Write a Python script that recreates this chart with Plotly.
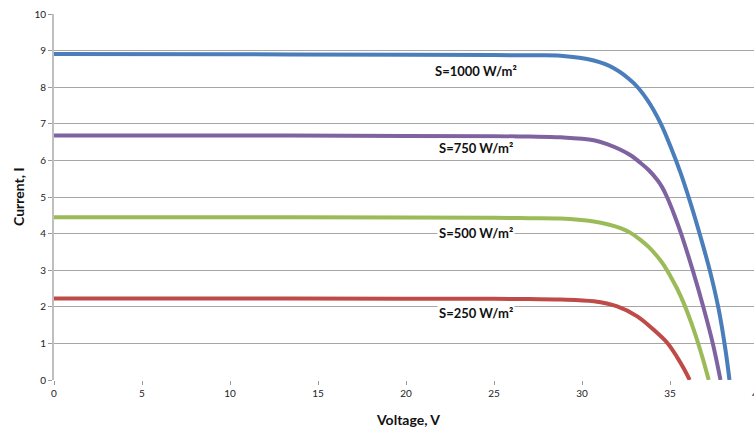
import plotly.graph_objects as go

# I-V characteristics of a PV module at four irradiance levels
v_1000 = [0, 10, 20, 25, 27, 28.78, 30.67, 31.81, 32.94, 33.70, 34.46, 35.03, 35.6, 36.16, 36.73, 37.3, 37.77, 38.15, 38.38]
i_1000 = [8.91, 8.90, 8.89, 8.88, 8.87, 8.86, 8.73, 8.52, 8.11, 7.66, 7.02, 6.38, 5.66, 4.84, 3.92, 2.92, 1.92, 0.83, 0]

v_750 = [0, 10, 20, 25, 27, 28.78, 30.67, 31.5, 32.19, 32.76, 33.33, 33.8, 34.27, 34.55, 34.83, 35.23, 35.63, 36.29, 36.89, 37.43, 37.87]
i_750 = [6.68, 6.68, 6.67, 6.66, 6.65, 6.63, 6.55, 6.43, 6.29, 6.14, 5.93, 5.73, 5.47, 5.27, 5.0, 4.53, 4.0, 3.0, 2.0, 1.0, 0]

v_500 = [0, 10, 20, 25, 27, 28.78, 30.67, 31.5, 32.19, 32.76, 33.32, 33.8, 34.27, 34.65, 35.03, 35.4, 35.78, 36.35, 36.83, 37.2]
i_500 = [4.45, 4.45, 4.44, 4.43, 4.42, 4.41, 4.33, 4.25, 4.15, 4.02, 3.83, 3.63, 3.38, 3.14, 2.83, 2.50, 2.10, 1.37, 0.64, 0]

v_250 = [0, 10, 20, 25, 27, 28.78, 30.67, 32.0, 33.14, 34.08, 34.84, 35.41, 35.8, 36.12]
i_250 = [2.23, 2.23, 2.22, 2.22, 2.21, 2.20, 2.15, 2.01, 1.74, 1.37, 1.02, 0.62, 0.30, 0]

series_names = ["S=1000 W/m²", "S=750 W/m²", "S=500 W/m²", "S=250 W/m²"]
series_colors = ["#4A7EBB", "#7F63A1", "#9BBB59", "#BE4B48"]
label_pos = [(24.0, 8.43), (24.0, 6.34), (24.0, 4.02), (24.0, 1.83)]

x_ticks = [0, 5, 10, 15, 20, 25, 30, 35]
y_ticks = list(range(0, 11))
edge_tick = 40

FONT = "Lato, 'Open Sans', sans-serif"

W, H = 754, 429
L, R, T, B = 54, 0, 14, 49
plot_w = W - L - R
plot_h = H - T - B
px_per_volt = 17.6
x_max = plot_w / px_per_volt

fig = go.Figure()
for vs, cs, name, color in zip(
    [v_1000, v_750, v_500, v_250],
    [i_1000, i_750, i_500, i_250],
    series_names,
    series_colors,
):
    fig.add_trace(go.Scatter(
        x=vs, y=cs, mode="lines", name=name,
        line=dict(color=color, width=4, shape="spline", smoothing=1.0),
        cliponaxis=True,
    ))

for name, (lx, ly) in zip(series_names, label_pos):
    fig.add_annotation(
        x=lx, y=ly, xref="x", yref="y", text="<b>" + name + "</b>",
        showarrow=False, bgcolor="white", borderpad=1,
        font=dict(family=FONT, size=13, color="#111111"),
    )

# the 40 V tick label sits just past the right edge of the canvas
fig.add_annotation(
    x=edge_tick / x_max, y=0, xref="paper", yref="paper",
    xanchor="center", yanchor="top", yshift=-6,
    text=str(edge_tick), showarrow=False,
    font=dict(family=FONT, size=10, color="#222222"),
)

# axis titles placed in pixel terms relative to the plot area
fig.add_annotation(
    x=(18 - L) / plot_w, y=(H - B - 197) / plot_h, xref="paper", yref="paper",
    xanchor="center", yanchor="middle", text="<b>Current, I</b>",
    showarrow=False, textangle=-90,
    font=dict(family=FONT, size=14, color="#111111"),
)
fig.add_annotation(
    x=(407.7 - L) / plot_w, y=(H - B - 419.7) / plot_h, xref="paper", yref="paper",
    xanchor="center", yanchor="middle", text="<b>Voltage, V</b>",
    showarrow=False,
    font=dict(family=FONT, size=14, color="#111111"),
)

fig.update_layout(
    width=W, height=H,
    margin=dict(l=L, r=R, t=T, b=B),
    paper_bgcolor="white", plot_bgcolor="white",
    showlegend=False,
    font=dict(family=FONT, size=10, color="#222222"),
    xaxis=dict(
        range=[0, x_max],
        tickvals=x_ticks,
        showgrid=False, zeroline=False, showline=False,
        ticks="outside", ticklen=4, tickcolor="#999999",
        tickfont=dict(family=FONT, size=10, color="#222222"),
    ),
    yaxis=dict(
        range=[0, 10],
        tickvals=y_ticks,
        showgrid=True, gridcolor="#A6A6A6", gridwidth=1,
        zeroline=False,
        showline=True, linecolor="#BFBFBF", linewidth=2,
        ticks="outside", ticklen=4, tickcolor="#999999",
        tickfont=dict(family=FONT, size=10, color="#222222"),
    ),
)

fig.write_html("out.html")
